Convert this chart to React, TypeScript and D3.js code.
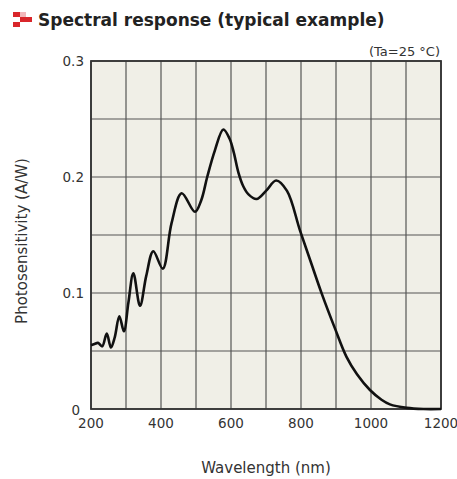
import React from "react";
import * as d3 from "d3";

const wavelengths = [200, 210, 220, 232, 245, 257, 268, 281, 294, 307, 321, 340, 358, 378, 405, 430, 459, 497, 515, 532, 554, 578, 596, 608, 621, 635, 650, 673, 700, 729, 760, 797, 830, 859, 897, 930, 960, 997, 1030, 1054, 1102, 1150, 1200];
const sensitivity = [0.055, 0.056, 0.057, 0.054, 0.065, 0.053, 0.062, 0.080, 0.067, 0.092, 0.117, 0.089, 0.115, 0.136, 0.121, 0.160, 0.186, 0.170, 0.180, 0.200, 0.223, 0.241, 0.233, 0.221, 0.204, 0.192, 0.185, 0.181, 0.188, 0.197, 0.188, 0.154, 0.125, 0.0997, 0.0695, 0.045, 0.030, 0.0164, 0.008, 0.004, 0.001, 0.0, 0.0];
const xTicks = [200, 400, 600, 800, 1000, 1200];
const yTicks = [0, 0.1, 0.2, 0.3];
const xGrid = d3.range(200, 1201, 100);
const yGrid = [0, 0.05, 0.1, 0.15, 0.2, 0.25, 0.3];

const W = 457, H = 479;
const L = 91, R = 441, T = 61, B = 409;
const FONT = "'DejaVu Sans', Verdana, sans-serif";

export default function App() {
  const x = d3.scaleLinear().domain([200, 1200]).range([L, R]);
  const y = d3.scaleLinear().domain([0, 0.3]).range([B, T]);
  const pts: [number, number][] = wavelengths.map((w, i) => [w, sensitivity[i]]);
  const line = d3.line<[number, number]>()
    .x(d => x(d[0]))
    .y(d => y(d[1]))
    .curve(d3.curveCatmullRom.alpha(0.5));

  return (
    <svg width={W} height={H} style={{ position: "absolute", left: 0, top: 0, background: "#fff" }}>
      <rect x={13} y={12} width={7} height={5} fill="#d9262b" />
      <rect x={20} y={12} width={6} height={5} fill="#f2b8bb" />
      <rect x={20} y={17} width={12} height={5} fill="#d9262b" />
      <rect x={13} y={22} width={7} height={5} fill="#d9262b" />
      <text x={38} y={26} fontFamily={FONT} fontWeight="bold" fontSize={17} fill="#222">Spectral response (typical example)</text>
      <text x={440} y={56} textAnchor="end" fontFamily={FONT} fontSize={13} fill="#333">(Ta=25 °C)</text>

      <rect x={L} y={T} width={R - L} height={B - T} fill="#f0efe7" />
      {xGrid.map(v => (
        <line key={"gx" + v} x1={x(v)} x2={x(v)} y1={T} y2={B} stroke="#555" strokeWidth={1.2} />
      ))}
      {yGrid.map(v => (
        <line key={"gy" + v} x1={L} x2={R} y1={y(v)} y2={y(v)} stroke="#555" strokeWidth={1.2} />
      ))}
      <rect x={L} y={T} width={R - L} height={B - T} fill="none" stroke="#333" strokeWidth={1.8} />

      <path d={line(pts) || ""} fill="none" stroke="#111" strokeWidth={2.6} strokeLinejoin="round" />

      {yTicks.map(v => (
        <text key={"yt" + v} x={v === 0 ? 80 : 84} y={v === 0 ? y(v) + 6 : y(v) + 5} textAnchor="end" fontFamily={FONT} fontSize={13.5} fill="#333">
          {v === 0 ? "0" : v.toFixed(1)}
        </text>
      ))}
      {xTicks.map(v => (
        <text key={"xt" + v} x={x(v)} y={428} textAnchor="middle" fontFamily={FONT} fontSize={13.5} fill="#333">
          {v}
        </text>
      ))}
      <text x={266} y={473} textAnchor="middle" fontFamily={FONT} fontSize={15} fill="#333">Wavelength (nm)</text>
      <text transform={`translate(27,241) rotate(-90)`} textAnchor="middle" fontFamily={FONT} fontSize={15} fill="#333">Photosensitivity (A/W)</text>
    </svg>
  );
}
